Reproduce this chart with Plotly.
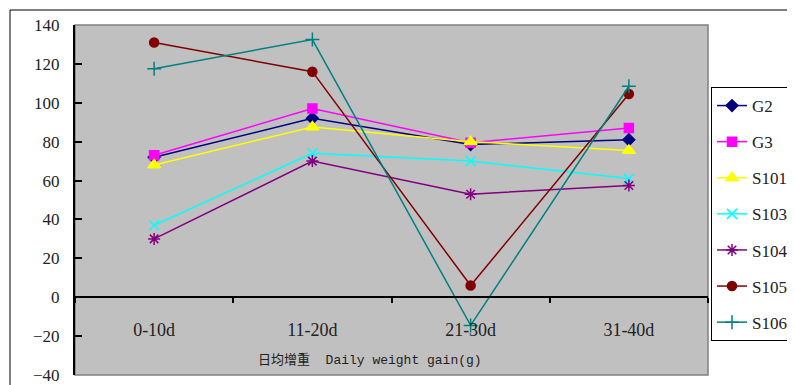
import plotly.graph_objects as go

categories = ["0-10d", "11-20d", "21-30d", "31-40d"]
series_names = ["G2", "G3", "S101", "S103", "S104", "S105", "S106"]
g2 = [72, 92, 78.5, 81]
g3 = [73, 97, 79.5, 87]
s101 = [68, 87.5, 80, 75.5]
s103 = [37, 74, 70, 61]
s104 = [30, 70, 53, 57.5]
s105 = [131, 116, 6, 104.5]
s106 = [117.5, 132.5, -14.5, 108.5]
values = [g2, g3, s101, s103, s104, s105, s106]
y_ticks = [-40, -20, 0, 20, 40, 60, 80, 100, 120, 140]
x_title = "日均增重  Daily weight gain(g)"

colors = ["#000080", "#FF00FF", "#FFFF00", "#00FFFF", "#800080", "#800000", "#008080"]
symbols = ["diamond", "square", "triangle-up", "x-thin", "asterisk-open", "circle", "cross-thin"]
sizes = [9, 9, 11, 10, 10, 9, 10]

serif = "'Liberation Serif', 'Times New Roman', serif"

fig = go.Figure()
for name, vals, c, s, sz in zip(series_names, values, colors, symbols, sizes):
    fig.add_trace(go.Scatter(
        x=categories, y=vals, name=name, mode="lines+markers",
        legendgroup=name,
        line=dict(color=c, width=1.5),
        marker=dict(symbol=s, size=sz, color=c, line=dict(color=c, width=1.5)),
    ))

# page body has an 8px margin; compensate so the chart sits like the reference
OFF = 8
W, H = 787, 377
L, T = 75 - OFF, 25 - OFF
R = W - (708 - OFF)
B = H - (375 - OFF)
pw = W - L - R
ph = H - T - B

def px_x(x):
    return (x - OFF - L) / pw

def px_y(y):
    return (H - B - (y - OFF)) / ph

zero_pos = (0 - (-40)) / 180.0

fig.update_layout(
    width=W, height=H,
    margin=dict(l=L, r=R, t=T, b=B, autoexpand=False),
    paper_bgcolor="white",
    plot_bgcolor="#C0C0C0",
    font=dict(family=serif, size=17, color="#222222"),
    showlegend=True,
    legend=dict(
        x=px_x(711), xanchor="left",
        y=px_y(87), yanchor="top",
        bgcolor="white", bordercolor="black", borderwidth=1,
        font=dict(family=serif, size=17, color="#222222"),
        traceorder="grouped", tracegroupgap=11,
    ),
    xaxis=dict(
        type="category",
        anchor="free", position=zero_pos,
        showline=True, linecolor="black", linewidth=1.5,
        ticks="outside", ticklen=5, tickwidth=1.5, tickcolor="black",
        tickson="boundaries",
        ticklabelstandoff=16,
        showgrid=False, zeroline=False,
        range=[-0.5, 3.5],
        tickfont=dict(family=serif, size=18, color="#222222"),
    ),
    yaxis=dict(
        range=[-40, 140],
        tickvals=y_ticks,
        showline=True, linecolor="black", linewidth=2,
        ticks="inside", ticklen=7, tickwidth=1.5, tickcolor="black",
        showgrid=False, zeroline=False,
        ticklabelstandoff=10,
        tickfont=dict(family=serif, size=17, color="#222222"),
    ),
    annotations=[
        dict(text=x_title, xref="paper", yref="paper",
             x=px_x(370), y=px_y(360), xanchor="center", yanchor="middle",
             showarrow=False,
             font=dict(family="'Liberation Mono', 'Noto Sans CJK SC', monospace", size=13, color="#222222")),
    ],
    shapes=[
        dict(type="rect", xref="paper", yref="paper", x0=0, x1=1, y0=0, y1=1,
             line=dict(color="#808080", width=1.5), layer="below"),
        dict(type="rect", xref="paper", yref="paper",
             x0=px_x(10), x1=1.5, y0=-0.5, y1=px_y(10),
             line=dict(color="black", width=1), layer="below"),
    ],
)

fig.write_html("out.html")
